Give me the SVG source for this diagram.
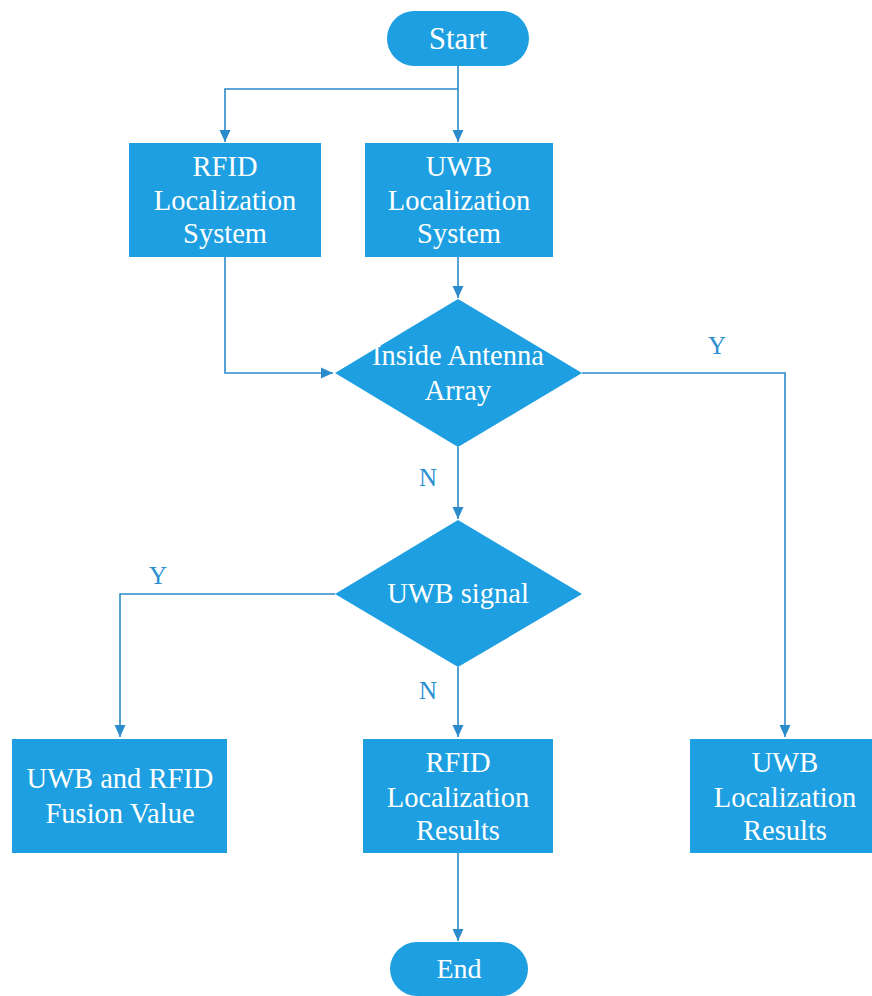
<svg xmlns="http://www.w3.org/2000/svg" width="872" height="996" viewBox="0 0 872 996">
<style>
.node{fill:#1D9FE1;}
.t{font-family:'Liberation Serif','Times New Roman',serif;font-size:28.5px;fill:#ffffff;text-anchor:middle;}
.lbl{font-family:'Liberation Serif','Times New Roman',serif;font-size:25px;fill:#2A8FD0;text-anchor:middle;}
.c{fill:none;stroke:#2C8BCB;stroke-width:1.6;}
</style>
<defs>
<marker id="ah" markerUnits="userSpaceOnUse" markerWidth="14" markerHeight="14" viewBox="0 0 14 14" refX="12" refY="7" orient="auto">
<path d="M0,1.5 L12,7 L0,12.5 Z" fill="#2C8BCB"/>
</marker>
</defs>
<rect width="872" height="996" fill="#ffffff"/>
<g id="connectors">
<path class="c" d="M458,66 L458,142" marker-end="url(#ah)"/>
<path class="c" d="M458,89 L225,89 L225,142" marker-end="url(#ah)"/>
<path class="c" d="M458,257 L458,298" marker-end="url(#ah)"/>
<path class="c" d="M225,257 L225,373 L333,373" marker-end="url(#ah)"/>
<path class="c" d="M582,373 L785,373 L785,737" marker-end="url(#ah)"/>
<path class="c" d="M458,447 L458,519" marker-end="url(#ah)"/>
<path class="c" d="M335,594 L120,594 L120,737" marker-end="url(#ah)"/>
<path class="c" d="M458,667 L458,737" marker-end="url(#ah)"/>
<path class="c" d="M458,853 L458,941" marker-end="url(#ah)"/>
<text class="lbl" x="717" y="354">Y</text>
<text class="lbl" x="428" y="486">N</text>
<text class="lbl" x="158" y="584">Y</text>
<text class="lbl" x="428" y="699">N</text>
</g>
<g id="start">
<rect class="node" x="387" y="11" width="142" height="55" rx="27.5"/>
<text class="t" x="458" y="49" style="font-size:31px">Start</text>
</g>
<g id="rfid-system">
<rect class="node" x="129" y="143" width="192" height="114"/>
<text class="t" x="225" y="176">RFID</text>
<text class="t" x="225" y="210">Localization</text>
<text class="t" x="225" y="243">System</text>
</g>
<g id="uwb-system">
<rect class="node" x="365" y="143" width="188" height="114"/>
<text class="t" x="459" y="176">UWB</text>
<text class="t" x="459" y="210">Localization</text>
<text class="t" x="459" y="243">System</text>
</g>
<g id="inside-antenna">
<polygon class="node" points="458,299 582,373 458,447 335,373"/>
<text class="t" x="458" y="365">Inside Antenna</text>
<text class="t" x="458" y="400">Array</text>
</g>
<g id="uwb-signal">
<polygon class="node" points="458,520 582,594 458,667 335,594"/>
<text class="t" x="458" y="603">UWB signal</text>
</g>
<g id="fusion">
<rect class="node" x="12" y="739" width="215" height="114"/>
<text class="t" x="120" y="788">UWB and RFID</text>
<text class="t" x="120" y="823">Fusion Value</text>
</g>
<g id="rfid-results">
<rect class="node" x="363" y="739" width="190" height="114"/>
<text class="t" x="458" y="772">RFID</text>
<text class="t" x="458" y="807">Localization</text>
<text class="t" x="458" y="840">Results</text>
</g>
<g id="uwb-results">
<rect class="node" x="690" y="739" width="182" height="114"/>
<text class="t" x="785" y="772">UWB</text>
<text class="t" x="785" y="807">Localization</text>
<text class="t" x="785" y="840">Results</text>
</g>
<g id="end">
<rect class="node" x="390" y="942" width="138" height="54" rx="27"/>
<text class="t" x="459" y="978" style="font-size:28px">End</text>
</g>
</svg>
